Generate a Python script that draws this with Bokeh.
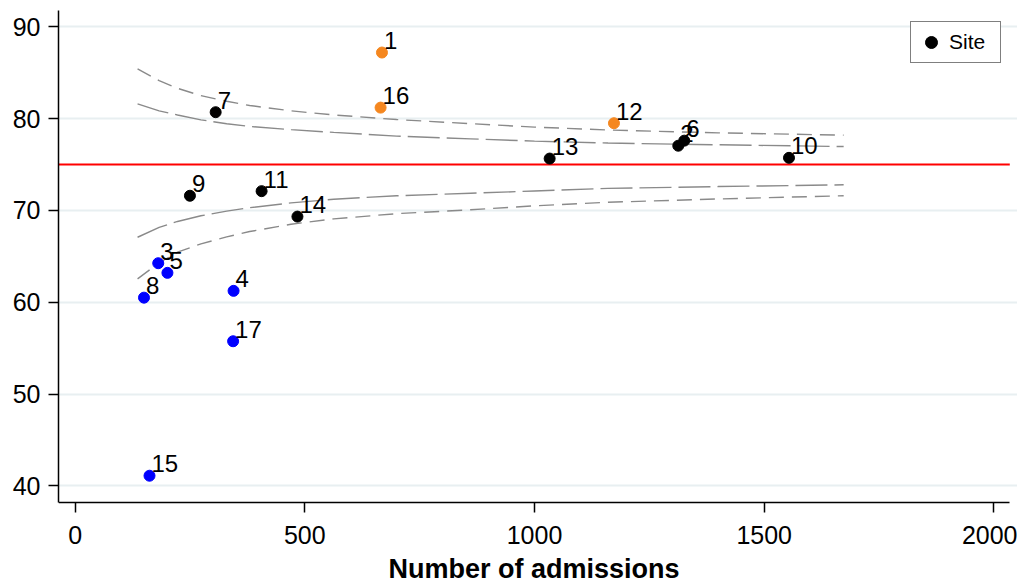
from bokeh.plotting import figure
from bokeh.models import Range1d, Legend, LegendItem, ColumnDataSource, FixedTicker
from bokeh.embed import file_html
from bokeh.resources import INLINE
from bokeh.core.properties import value

# ---- data ----
sites = [str(i) for i in range(1, 18)]
admissions = [668, 1313, 181, 345, 201, 1326, 306, 150, 250, 1554, 406, 1173, 1033, 484, 162, 665, 344]
rates = [87.2, 77.05, 64.25, 61.24, 63.2, 77.6, 80.7, 60.5, 71.6, 75.73, 72.1, 79.5, 75.65, 69.33, 41.1, 81.2, 55.75]
groups = ["high", "normal", "low", "low", "low", "normal", "normal", "low", "normal",
          "normal", "normal", "high", "normal", "normal", "low", "high", "low"]
group_colors = {"high": "#f5871f", "normal": "#000000", "low": "#0000ff"}

target = 75.0

limit_n = [136, 183, 223, 274, 330, 380, 470, 563, 700, 861, 1000, 1160, 1400, 1673]
upper_998 = [85.42, 84.15, 83.3, 82.5, 81.9, 81.43, 80.85, 80.4, 79.9, 79.45, 79.08, 78.76, 78.45, 78.2]
upper_95 = [81.61, 80.85, 80.4, 79.87, 79.45, 79.15, 78.8, 78.5, 78.1, 77.8, 77.55, 77.34, 77.15, 76.96]
lower_95 = [67.08, 68.15, 68.8, 69.42, 69.93, 70.3, 70.82, 71.22, 71.6, 71.87, 72.12, 72.4, 72.6, 72.79]
lower_998 = [62.55, 64.3, 65.45, 66.36, 67.12, 67.7, 68.5, 69.08, 69.65, 70.07, 70.5, 70.89, 71.25, 71.6]

x_ticks = [0, 500, 1000, 1500, 2000]
y_ticks = [40, 50, 60, 70, 80, 90]
x_title = "Number of admissions"

FONT = "Liberation Sans"
X_MIN, X_MAX = -36.1, 2034.6   # visible axis extent
Y_MIN, Y_MAX = 38.15, 91.78

p = figure(width=1017, height=583, output_backend="svg", toolbar_location=None,
           x_range=Range1d(X_MIN, 2051.4), y_range=Range1d(29.36, Y_MAX),
           min_border_left=58, min_border_right=0, min_border_top=10, min_border_bottom=0)
p.outline_line_color = None
p.background_fill_color = "white"
p.border_fill_color = "white"

# grid
p.xgrid.visible = False
p.ygrid.ticker = FixedTicker(ticks=y_ticks)
p.ygrid.bounds = (X_MIN, X_MAX)
p.ygrid.grid_line_color = "#e8eff1"
p.ygrid.grid_line_width = 2

# axes
p.xaxis.ticker = FixedTicker(ticks=x_ticks)
p.yaxis.ticker = FixedTicker(ticks=y_ticks)
p.xaxis.fixed_location = Y_MIN
p.xaxis.bounds = (X_MIN, X_MAX)
p.yaxis.bounds = (Y_MIN, Y_MAX)
for ax in (p.xaxis[0], p.yaxis[0]):
    ax.axis_line_color = "black"
    ax.axis_line_width = 1.5
    ax.major_tick_line_color = "black"
    ax.major_tick_line_width = 1.5
    ax.major_tick_out = 10
    ax.major_tick_in = 0
    ax.minor_tick_out = 0
    ax.minor_tick_in = 0
    ax.major_label_text_font = FONT
    ax.major_label_text_font_size = "25px"
    ax.major_label_text_color = "black"
p.yaxis.major_label_standoff = 8
p.xaxis.major_label_standoff = 13
p.xaxis.axis_label = x_title
p.xaxis.axis_label_text_font = FONT
p.xaxis.axis_label_text_font_size = "27px"
p.xaxis.axis_label_text_font_style = "bold"
p.xaxis.axis_label_text_color = "black"
p.xaxis.axis_label_standoff = 7

# control limits
p.line(limit_n, upper_998, line_color="#8a8a8a", line_width=1.4, line_dash="15 8")
p.line(limit_n, lower_998, line_color="#8a8a8a", line_width=1.4, line_dash="15 8")
p.line(limit_n, upper_95, line_color="#8a8a8a", line_width=1.4, line_dash="32 7")
p.line(limit_n, lower_95, line_color="#8a8a8a", line_width=1.4, line_dash="32 7")

# target line across the plot region
p.segment(x0=X_MIN, x1=X_MAX, y0=target, y1=target, line_color="#ff0000", line_width=2)

# points
src = ColumnDataSource(dict(x=admissions, y=rates, site=sites,
                            color=[group_colors[g] for g in groups]))
r = p.scatter("x", "y", source=src, size=11, fill_color="color", line_color="color", line_width=1)
p.text("x", "y", text="site", source=src, x_offset=2, y_offset=-12,
       text_font=value(FONT), text_font_size="24px", text_baseline="alphabetic",
       text_align="left", text_color="black")

legend = Legend(items=[LegendItem(label="Site", renderers=[r], index=1)],
                location=(852, 520), padding=5, spacing=0,
                glyph_width=30, glyph_height=30, label_standoff=3, label_width=46,
                label_text_font=FONT, label_text_font_size="21px", label_text_color="black",
                border_line_color="black", border_line_width=1,
                background_fill_color="white", background_fill_alpha=1)
p.add_layout(legend)

open("out.html", "w").write(file_html(p, INLINE))
